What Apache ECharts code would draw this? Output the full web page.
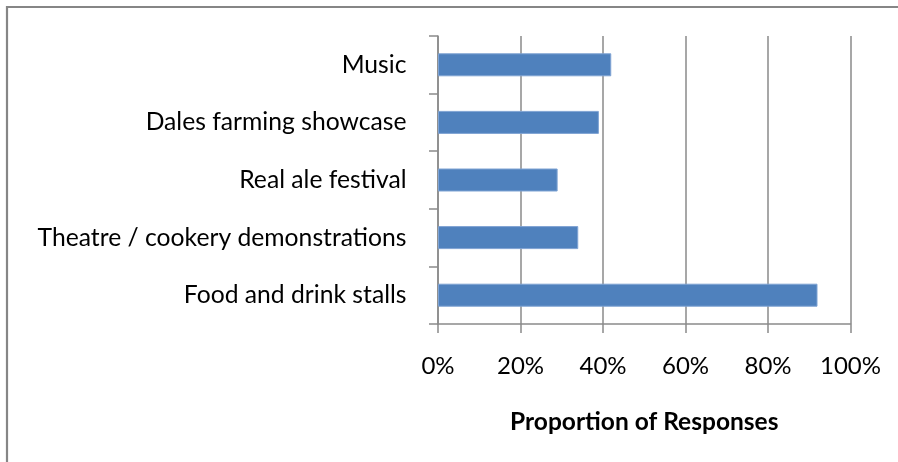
<!DOCTYPE html>
<html>
<head>
<meta charset="utf-8">
<title>Proportion of Responses</title>
<script src="https://cdn.jsdelivr.net/npm/echarts@6/dist/echarts.min.js"></script>
<style>
  html, body { margin: 0; padding: 0; background: #fff; }
  #chart { width: 898px; height: 462px; }
</style>
</head>
<body>
<div id="chart"></div>
<script>
// Event attractions, top to bottom
const categories = [
  'Music',
  'Dales farming showcase',
  'Real ale festival',
  'Theatre / cookery demonstrations',
  'Food and drink stalls'
];
// Share of respondents choosing each attraction (%)
const responses = [42, 39, 29, 34, 92];
const xTicks = [0, 20, 40, 60, 80, 100];

const FONT = 'Lato';
const GRID_GRAY = '#8a8a8a';

const chart = echarts.init(document.getElementById('chart'), null, { renderer: 'canvas' });

chart.setOption({
  backgroundColor: '#ffffff',
  animation: false,
  textStyle: { fontFamily: FONT },
  graphic: [{
    type: 'rect',
    shape: { x: 7, y: 7, width: 1200, height: 1200 },
    style: { fill: 'none', stroke: '#868686', lineWidth: 2.2 },
    silent: true
  }],
  grid: { left: 438, right: 47.5, top: 36, bottom: 138, containLabel: false },
  xAxis: {
    type: 'value',
    min: xTicks[0],
    max: xTicks[xTicks.length - 1],
    interval: xTicks[1] - xTicks[0],
    name: 'Proportion of Responses',
    nameLocation: 'middle',
    nameGap: 86,
    nameTextStyle: { fontFamily: FONT, fontSize: 24.5, fontWeight: 'bold', color: '#000' },
    axisLine: { show: true, lineStyle: { color: GRID_GRAY, width: 1.5 } },
    axisTick: { show: true, length: 9, lineStyle: { color: GRID_GRAY, width: 1.5 } },
    axisLabel: {
      margin: 30,
      fontFamily: FONT,
      fontSize: 24,
      color: '#000',
      formatter: v => v + '%'
    },
    splitLine: { show: true, lineStyle: { color: GRID_GRAY, width: 1.5 } }
  },
  yAxis: {
    type: 'category',
    data: categories,
    inverse: true,
    axisLine: { show: true, lineStyle: { color: GRID_GRAY, width: 1.5 } },
    axisTick: { show: true, length: 9, lineStyle: { color: GRID_GRAY, width: 1.5 } },
    axisLabel: { margin: 31.5, fontFamily: FONT, fontSize: 24.7, color: '#000' },
    splitLine: { show: false }
  },
  series: [{
    type: 'bar',
    data: responses,
    barWidth: 23,
    itemStyle: { color: '#4f81bd', borderColor: '#7fa3d3', borderWidth: 1 },
    silent: true
  }]
});
</script>
</body>
</html>
